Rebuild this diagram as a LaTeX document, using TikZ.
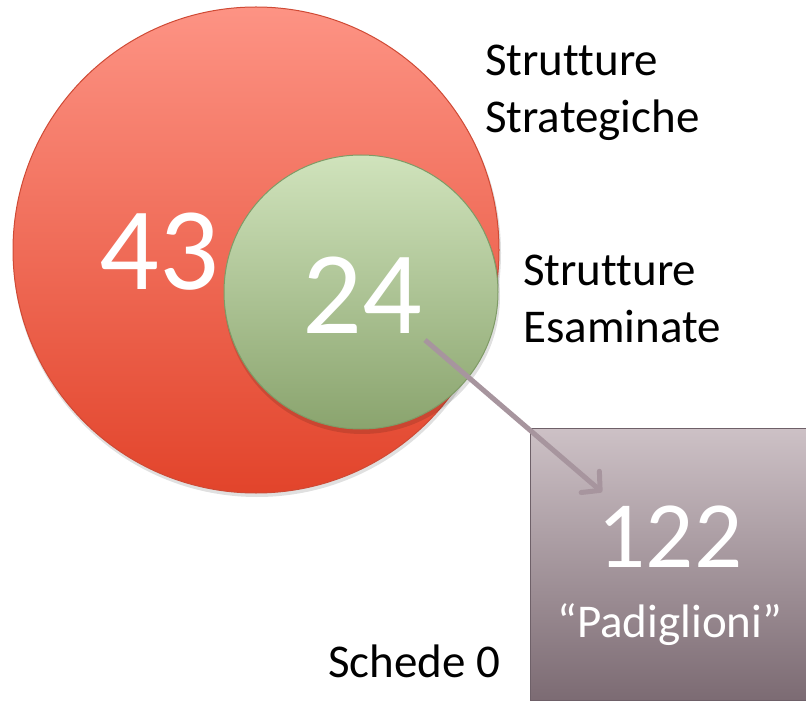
\documentclass[tikz,border=0pt]{standalone}
\usepackage{fontspec}
\setmainfont{Carlito}[Ligatures=NoCommon]
\usetikzlibrary{arrows.meta}
\definecolor{redtop}{HTML}{FD9384}
\definecolor{redbot}{HTML}{E2442B}
\definecolor{redborder}{HTML}{CF4A35}
\definecolor{greentop}{HTML}{D0E3BC}
\definecolor{greenbot}{HTML}{8AA46E}
\definecolor{greenborder}{HTML}{7F9B66}
\definecolor{boxtop}{HTML}{CDC1C6}
\definecolor{boxbot}{HTML}{7C6B73}
\definecolor{boxborder}{HTML}{6E6068}
\definecolor{arrowcol}{HTML}{A7959E}
\tikzset{
  bignum/.style={text=white, inner sep=0pt, font=\fontsize{118}{118}\selectfont},
  label/.style={text=black, inner sep=0pt, align=left, anchor=base west, font=\fontsize{47}{57}\selectfont},
  conn/.style={draw=arrowcol, line width=5pt, -{Straight Barb[length=13pt, width=28pt, line width=5pt, round]}},
  softshadow/.style={fill=black, fill opacity=0.12, draw=none},
}
\begin{document}
\begin{tikzpicture}[x=1pt,y=-1pt]
\useasboundingbox (0,0) rectangle (806,703);
% shadows
\fill[softshadow] (257,253) circle (244pt);
% outer circle
\node[circle, minimum size=486pt, inner sep=0pt, draw=redborder, line width=1pt,
      top color=redtop, bottom color=redbot] (outer) at (256,250) {};
\fill[softshadow] (362,296) circle (138pt);
% inner circle
\node[circle, minimum size=274pt, inner sep=0pt, draw=greenborder, line width=1pt,
      top color=greentop, bottom color=greenbot] (inner) at (361,292) {};
\node[bignum] (n43) at (159,252) {43};
\node[bignum] (n24) at (362,295) {24};
% labels
\node[label] (lstrat) at (485,133) {Strutture\\Strategiche};
\node[label] (lesam) at (523,342) {Strutture\\Esaminate};
\node[label] (lsch) at (328,677) {Schede 0};
% box
\node[rectangle, minimum width=284pt, minimum height=272pt, inner sep=0pt,
      draw=boxborder, line width=1pt, top color=boxtop, bottom color=boxbot] (box) at (672,564) {};
\node[text=white, inner sep=0pt, font=\fontsize{95}{95}\selectfont] (n122) at (670,537) {122};
\node[text=white, inner sep=0pt, anchor=base, font=\fontsize{47}{57}\selectfont] (lpad) at (670,637) {“Padiglioni”};
% arrow
\coordinate (astart) at (425,340);
\coordinate (aend) at (602,492);
\draw[conn] (astart) -- (aend);
\end{tikzpicture}
\end{document}
